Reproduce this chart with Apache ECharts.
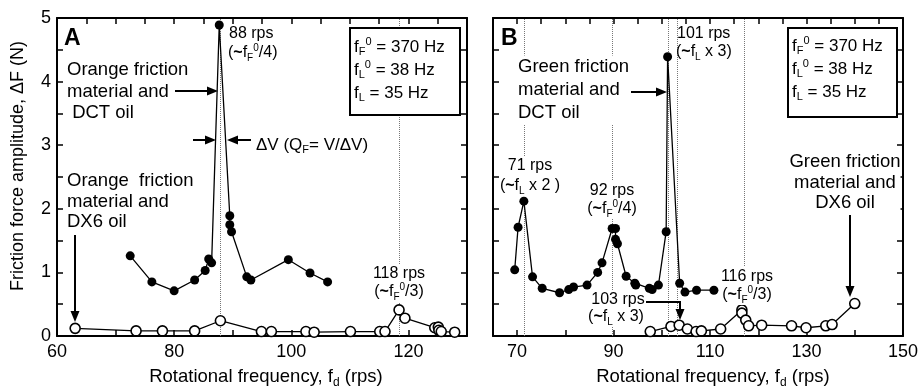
<!DOCTYPE html>
<html>
<head>
<meta charset="utf-8">
<script src="https://cdn.jsdelivr.net/npm/echarts@6/dist/echarts.min.js"></script>
<style>
  html, body { margin: 0; padding: 0; background: #fff; }
  #chart { width: 921px; height: 389px; }
</style>
</head>
<body>
<div id="chart"></div>
<script>
// panel A: orange friction material
const aDctX = [72.5, 76.2, 80.0, 83.5, 85.3, 85.9, 86.4, 87.7, 89.5, 89.5, 89.8, 92.4, 93.1, 99.5, 103.2, 106.2]
const aDctY = [1.26, 0.85, 0.71, 0.88, 1.03, 1.21, 1.15, 4.89, 1.89, 1.75, 1.64, 0.93, 0.88, 1.20, 0.99, 0.85]
const aDx6X = [63.1, 73.5, 78.0, 83.5, 87.9, 94.9, 96.6, 102.5, 103.9, 110.1, 115.1, 116.0, 118.4, 119.4, 124.5, 125.1, 125.2, 125.6, 127.9]
const aDx6Y = [0.12, 0.08, 0.08, 0.08, 0.24, 0.07, 0.07, 0.07, 0.06, 0.07, 0.07, 0.07, 0.41, 0.28, 0.13, 0.14, 0.09, 0.07, 0.06]
const aGuides = [87.8, 118.4]

// panel B: green friction material
const bDctX = [69.5, 70.2, 71.4, 73.2, 75.2, 78.8, 80.7, 81.7, 84.5, 86.7, 87.6, 89.7, 90.4, 90.4, 90.8, 92.6, 94.4, 94.6, 97.4, 98.0, 99.3, 100.9, 101.2, 103.7, 104.8, 107.2, 110.8]
const bDctY = [1.04, 1.71, 2.12, 0.93, 0.75, 0.68, 0.73, 0.77, 0.80, 1.00, 1.15, 1.69, 1.69, 1.52, 1.45, 0.94, 0.83, 0.80, 0.75, 0.73, 0.80, 1.64, 4.39, 0.83, 0.69, 0.72, 0.72]
const bDx6X = [97.6, 101.9, 103.6, 105.3, 107.1, 108.2, 112.2, 116.6, 116.6, 117.4, 118.0, 120.7, 126.9, 129.9, 134.0, 135.3, 140.0]
const bDx6Y = [0.07, 0.15, 0.17, 0.11, 0.07, 0.08, 0.11, 0.41, 0.36, 0.25, 0.16, 0.17, 0.16, 0.13, 0.16, 0.18, 0.51]
const bGuides = [71.4, 89.7, 101.3, 103.1, 117.0]

// ticks
const aXLabels = [60, 80, 100, 120]
const aXTicks = [70, 80, 90, 100, 110, 120]
const bXLabels = [70, 90, 110, 130, 150]
const bXTicks = [70, 80, 90, 100, 110, 120, 130, 140]
const yLabels = [0, 1, 2, 3, 4, 5]

const FAM = '"Liberation Sans", Arial, Helvetica, sans-serif'
const zip = (xs, ys) => xs.map((x, i) => [x, ys[i]])

function rich(size) {
  const s = Math.round(size * 0.65)
  return {
    sub: { font: s + 'px ' + FAM, lineHeight: s, verticalAlign: 'bottom' },
    sup: { font: s + 'px ' + FAM, lineHeight: s, verticalAlign: 'top' },
    tl: { font: 'bold ' + size + 'px ' + FAM }
  }
}

// y is the centre of the first line
function label(x, y, text, size, opts) {
  const o = opts || {}
  const lh = o.lineHeight || size + 4
  return {
    type: 'text', x: x, y: y - lh / 2, z: 100, rotation: o.rotation || 0,
    style: {
      text: text, font: (o.bold ? 'bold ' : '') + size + 'px ' + FAM, fill: '#000',
      lineHeight: lh, align: o.align || 'left', verticalAlign: 'top',
      rich: rich(size), backgroundColor: o.bg === false ? null : '#fff', padding: 0
    }
  }
}

function arrow(points) {
  const n = points.length
  const [x1, y1] = points[n - 2]
  const [x2, y2] = points[n - 1]
  const a = Math.atan2(y2 - y1, x2 - x1)
  const L = 11, W = 4.5
  const bx = x2 - L * Math.cos(a), by = y2 - L * Math.sin(a)
  const p1 = [bx + W * Math.sin(a), by - W * Math.cos(a)]
  const p2 = [bx - W * Math.sin(a), by + W * Math.cos(a)]
  return [
    { type: 'polyline', z: 100, shape: { points: points.slice(0, n - 1).concat([[bx, by]]) }, style: { stroke: '#000', lineWidth: 2, fill: null } },
    { type: 'polygon', z: 100, shape: { points: [[x2, y2], p1, p2] }, style: { fill: '#000' } }
  ]
}

function box(x, y, w, h) {
  return { type: 'rect', z: 90, shape: { x: x, y: y, width: w, height: h }, style: { fill: '#fff', stroke: '#000', lineWidth: 2 } }
}

const axisLine = { onZero: false, lineStyle: { color: '#000', width: 2 } }
const tickStyle = { color: '#000', width: 1.5 }
const labelStyle = { color: '#000', fontSize: 18, fontFamily: FAM }

function xAxes(grid, min, max, labels, ticks) {
  return [
    {
      type: 'value', gridIndex: grid, position: 'bottom', min: min, max: max, interval: 5,
      axisLine: axisLine, splitLine: { show: false },
      axisTick: { inside: true, length: 6, lineStyle: tickStyle, customValues: ticks },
      axisLabel: Object.assign({ margin: 7, customValues: labels }, labelStyle)
    },
    {
      type: 'value', gridIndex: grid, position: 'top', min: min, max: max, interval: 5,
      axisLine: axisLine, splitLine: { show: false },
      axisTick: { inside: true, length: 6, lineStyle: tickStyle },
      axisLabel: { show: false }
    }
  ]
}

function yAxes(grid, withLabels) {
  return [
    {
      type: 'value', gridIndex: grid, position: 'left', min: 0, max: 5, interval: 0.5,
      axisLine: Object.assign({ show: true }, axisLine), splitLine: { show: false },
      axisTick: { inside: true, length: 6, lineStyle: tickStyle },
      axisLabel: Object.assign({ show: withLabels, margin: 6, customValues: yLabels }, labelStyle)
    },
    {
      type: 'value', gridIndex: grid, position: 'right', min: 0, max: 5, interval: 0.5,
      axisLine: Object.assign({ show: true }, axisLine), splitLine: { show: false },
      axisTick: { inside: true, length: 6, lineStyle: tickStyle },
      axisLabel: { show: false }
    }
  ]
}

function filled(name, x, y, data) {
  return {
    name: name, type: 'line', xAxisIndex: x, yAxisIndex: y, data: data, z: 3,
    symbol: 'circle', symbolSize: 9, itemStyle: { color: '#000' },
    lineStyle: { color: '#000', width: 1.3 }, animation: false
  }
}

function open(name, x, y, data) {
  return {
    name: name, type: 'line', xAxisIndex: x, yAxisIndex: y, data: data, z: 4,
    symbol: 'circle', symbolSize: 10, showAllSymbol: true,
    itemStyle: { color: '#fff', borderColor: '#000', borderWidth: 1.6 },
    lineStyle: { color: '#000', width: 1.3 }, animation: false
  }
}

function guides(x, y, values) {
  return {
    type: 'line', xAxisIndex: x, yAxisIndex: y, data: [], z: 1, silent: true,
    markLine: {
      z: 1, silent: true, symbol: ['none', 'none'], animation: false, label: { show: false },
      lineStyle: { type: 'dotted', color: '#777', width: 1 },
      data: values.map(v => ({ xAxis: v }))
    }
  }
}

const graphics = [
  // panel A
  label(67, 70, 'Orange friction\nmaterial and\n DCT oil', 18.5, { lineHeight: 21.5 }),
  label(64, 39, 'A', 23, { bold: true, bg: false }),
  label(229, 34, '88 rps', 16, { bg: false }),
  label(228, 53, '({tl|~}f{sub|F}{sup|0}/4)', 16, { bg: false }),
  ...arrow([[175, 91], [218, 91]]),
  ...arrow([[193, 140], [216, 140]]),
  ...arrow([[251, 140], [227, 140]]),
  label(256, 145, 'ΔV (Q{sub|F}= V/ΔV)', 17, { bg: false }),
  label(67, 181, 'Orange  friction\nmaterial and\nDX6 oil', 18.5, { lineHeight: 20.5 }),
  ...arrow([[75, 235], [75, 322]]),
  label(399, 274, '118 rps', 16, { align: 'center' }),
  label(399, 292, '({tl|~}f{sub|F}{sup|0}/3)', 16, { align: 'center' }),
  box(350, 28, 110, 87),
  label(354, 47, 'f{sub|F}{sup|0} = 370 Hz', 17, { bg: false }),
  label(354, 70, 'f{sub|L}{sup|0} = 38 Hz', 17, { bg: false }),
  label(354, 93, 'f{sub|L} = 35 Hz', 17, { bg: false }),
  label(266, 377, 'Rotational frequency, f{sub|d} (rps)', 18.5, { align: 'center', bg: false }),
  {
    type: 'text', x: 18, y: 166, z: 100, rotation: Math.PI / 2,
    style: { text: 'Friction force amplitude, ΔF (N)', font: '18px ' + FAM, fill: '#000', align: 'center', verticalAlign: 'middle' }
  },

  // panel B
  label(518, 67, 'Green friction\nmaterial and\nDCT oil', 18.5, { lineHeight: 23 }),
  label(501, 39, 'B', 23, { bold: true, bg: false }),
  label(677, 34, '101 rps', 16, { bg: false }),
  label(676, 52, '({tl|~}f{sub|L} x 3)', 16, { bg: false }),
  ...arrow([[631, 92], [667, 92]]),
  box(788, 28, 109, 89),
  label(792, 46, 'f{sub|F}{sup|0} = 370 Hz', 17, { bg: false }),
  label(792, 69, 'f{sub|L}{sup|0} = 38 Hz', 17, { bg: false }),
  label(792, 92, 'f{sub|L} = 35 Hz', 17, { bg: false }),
  label(530, 166, '71 rps', 16, { align: 'center' }),
  label(530, 186, '({tl|~}f{sub|L} x 2 )', 16, { align: 'center' }),
  label(612, 191, '92 rps', 16, { align: 'center' }),
  label(612, 209, '({tl|~}f{sub|F}{sup|0}/4)', 16, { align: 'center' }),
  label(845, 162, 'Green friction\nmaterial and\nDX6 oil', 18.5, { align: 'center', lineHeight: 20.5 }),
  ...arrow([[850, 215], [850, 297]]),
  label(747, 277, '116 rps', 16, { align: 'center' }),
  label(747, 295, '({tl|~}f{sub|F}{sup|0}/3)', 16, { align: 'center' }),
  label(618, 300, '103 rps', 16, { align: 'center' }),
  label(616, 317, '({tl|~}f{sub|L} x 3)', 16, { align: 'center' }),
  ...arrow([[646, 302], [680, 302], [680, 320]]),
  label(713, 377, 'Rotational frequency, f{sub|d} (rps)', 18.5, { align: 'center', bg: false })
]

const chart = echarts.init(document.getElementById('chart'), null, { renderer: 'canvas' })

chart.setOption({
  backgroundColor: '#fff',
  animation: false,
  grid: [
    { left: 57, top: 18, width: 410, height: 318 },
    { left: 493, top: 18, width: 412, height: 318 }
  ],
  xAxis: [
    ...xAxes(0, 60, 130, aXLabels, aXTicks),
    ...xAxes(1, 65, 150, bXLabels, bXTicks)
  ],
  yAxis: [
    ...yAxes(0, true),
    ...yAxes(1, false)
  ],
  series: [
    guides(0, 0, aGuides),
    guides(2, 2, bGuides),
    filled('A DCT', 0, 0, zip(aDctX, aDctY)),
    open('A DX6', 0, 0, zip(aDx6X, aDx6Y)),
    filled('B DCT', 2, 2, zip(bDctX, bDctY)),
    open('B DX6', 2, 2, zip(bDx6X, bDx6Y))
  ],
  graphic: graphics
})
</script>
</body>
</html>
